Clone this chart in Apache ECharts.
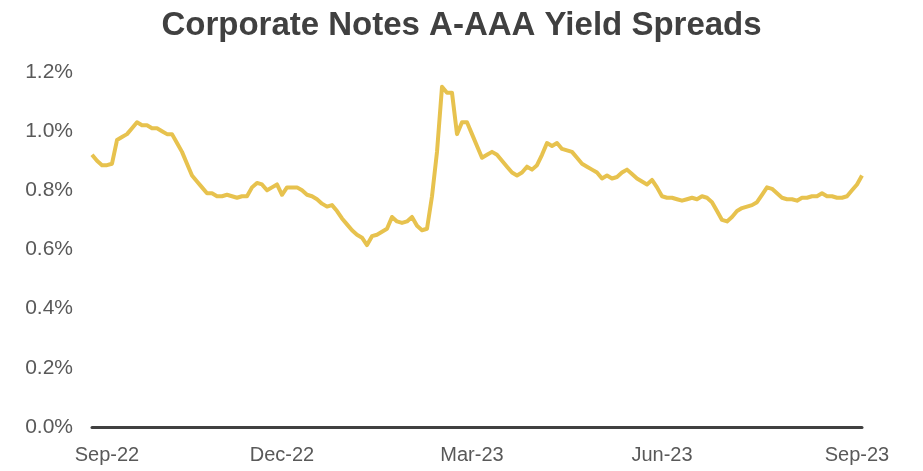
<!DOCTYPE html>
<html>
<head>
<meta charset="utf-8">
<script src="https://cdn.jsdelivr.net/npm/echarts@6/dist/echarts.min.js"></script>
<style>html,body{margin:0;padding:0;background:#fff}#c{width:923px;height:471px}</style>
</head>
<body>
<div id="c"></div>
<script>
const titleText = 'Corporate Notes A-AAA Yield Spreads';

const dates = [
'2022-08-24','2022-08-27','2022-08-29',
'2022-09-01','2022-09-04','2022-09-06','2022-09-09','2022-09-12','2022-09-14',
'2022-09-17','2022-09-19','2022-09-22','2022-09-25','2022-09-27',
'2022-09-30','2022-10-02','2022-10-05','2022-10-08','2022-10-10',
'2022-10-13','2022-10-15','2022-10-18','2022-10-21','2022-10-23',
'2022-10-26','2022-10-28','2022-10-31','2022-11-03','2022-11-05',
'2022-11-08','2022-11-10','2022-11-13','2022-11-16','2022-11-18',
'2022-11-21','2022-11-23','2022-11-26','2022-11-29',
'2022-12-01','2022-12-04','2022-12-06','2022-12-08',
'2022-12-11','2022-12-13','2022-12-15','2022-12-18','2022-12-20','2022-12-22',
'2022-12-25','2022-12-27','2022-12-29','2023-01-01','2023-01-03','2023-01-05',
'2023-01-08','2023-01-10','2023-01-12','2023-01-15','2023-01-17','2023-01-19',
'2023-01-22','2023-01-24','2023-01-26','2023-01-29','2023-01-31','2023-02-02',
'2023-02-05','2023-02-07','2023-02-09','2023-02-12','2023-02-14','2023-02-16',
'2023-02-19','2023-02-21','2023-02-23','2023-02-26',
'2023-03-01','2023-03-04','2023-03-06','2023-03-09','2023-03-11','2023-03-14','2023-03-16',
'2023-03-19','2023-03-21','2023-03-24','2023-03-26','2023-03-29','2023-03-31',
'2023-04-03','2023-04-05','2023-04-08','2023-04-10','2023-04-13','2023-04-15',
'2023-04-18','2023-04-20','2023-04-23','2023-04-25','2023-04-28','2023-04-30',
'2023-05-03','2023-05-05','2023-05-08','2023-05-10','2023-05-13','2023-05-15',
'2023-05-18','2023-05-20','2023-05-22','2023-05-24','2023-05-26','2023-05-28','2023-05-30',
'2023-06-01','2023-06-04','2023-06-06','2023-06-08','2023-06-11','2023-06-13','2023-06-15',
'2023-06-18','2023-06-20','2023-06-22','2023-06-25','2023-06-27','2023-06-29',
'2023-07-02','2023-07-04','2023-07-06','2023-07-09','2023-07-11','2023-07-13',
'2023-07-16','2023-07-18','2023-07-20','2023-07-23','2023-07-25','2023-07-27',
'2023-07-30','2023-08-01','2023-08-03','2023-08-06','2023-08-08','2023-08-10',
'2023-08-13','2023-08-15','2023-08-17','2023-08-20','2023-08-22','2023-08-24',
'2023-08-27','2023-08-30','2023-09-01','2023-09-03'
];

const spreads = [
0.92,0.90,0.885,0.885,0.89,0.97,0.98,0.99,1.01,1.03,
1.02,1.02,1.01,1.01,1.00,0.99,0.99,0.96,0.93,0.89,
0.85,0.83,0.81,0.79,0.79,0.78,0.78,0.785,0.78,0.775,
0.78,0.78,0.81,0.825,0.82,0.80,0.81,0.82,0.785,0.81,
0.81,0.81,0.80,0.785,0.78,0.77,0.755,0.745,0.75,0.73,
0.705,0.685,0.665,0.65,0.64,0.615,0.645,0.65,0.66,0.67,
0.71,0.695,0.69,0.695,0.71,0.68,0.665,0.67,0.78,0.93,
1.15,1.13,1.13,0.99,1.03,1.03,0.99,0.95,0.91,0.92,
0.93,0.92,0.90,0.88,0.86,0.85,0.86,0.88,0.87,0.885,
0.92,0.96,0.95,0.96,0.94,0.935,0.93,0.91,0.89,0.88,
0.87,0.86,0.84,0.85,0.84,0.845,0.86,0.87,0.855,0.84,
0.83,0.82,0.835,0.81,0.78,0.775,0.775,0.77,0.765,0.77,
0.775,0.77,0.78,0.775,0.76,0.73,0.70,0.695,0.71,0.73,
0.74,0.745,0.75,0.76,0.785,0.81,0.805,0.79,0.775,0.77,
0.77,0.765,0.775,0.775,0.78,0.78,0.79,0.78,0.78,0.775,
0.775,0.78,0.80,0.82,0.85
];

const tickDates = ['2022-09-01','2022-12-01','2023-03-01','2023-06-01','2023-09-01'];
const tickLabels = ['Sep-22','Dec-22','Mar-23','Jun-23','Sep-23'];

const chart = echarts.init(document.getElementById('c'), null, {renderer: 'canvas'});
chart.setOption({
  animation: false,
  backgroundColor: '#ffffff',
  title: {
    text: titleText,
    left: 'center',
    top: 4,
    textStyle: {fontFamily: 'Liberation Sans, Arial, sans-serif', fontSize: 33, fontWeight: 'bold', color: '#404040'}
  },
  grid: {left: 92, right: 61, top: 72, bottom: 44, containLabel: false},
  xAxis: {
    type: 'category',
    data: dates,
    boundaryGap: false,
    axisLine: {show: true, lineStyle: {color: '#404040', width: 3}},
    axisTick: {show: false},
    splitLine: {show: false},
    axisLabel: {
      interval: function (idx, val) { return tickDates.indexOf(val) >= 0; },
      formatter: function (val) { const k = tickDates.indexOf(val); return k >= 0 ? tickLabels[k] : ''; },
      margin: 18,
      fontFamily: 'Liberation Sans, Arial, sans-serif',
      fontSize: 20,
      color: '#595959'
    }
  },
  yAxis: {
    type: 'value',
    min: 0,
    max: 1.2,
    interval: 0.2,
    axisLine: {show: false},
    axisTick: {show: false},
    splitLine: {show: false},
    axisLabel: {
      formatter: function (v) { return v.toFixed(1) + '%'; },
      margin: 19,
      fontFamily: 'Liberation Sans, Arial, sans-serif',
      fontSize: 21,
      color: '#595959'
    }
  },
  series: [{
    type: 'line',
    data: spreads,
    showSymbol: false,
    symbol: 'none',
    lineStyle: {color: '#E7C24E', width: 4, join: 'round'},
    z: 3
  }]
});
</script>
</body>
</html>
